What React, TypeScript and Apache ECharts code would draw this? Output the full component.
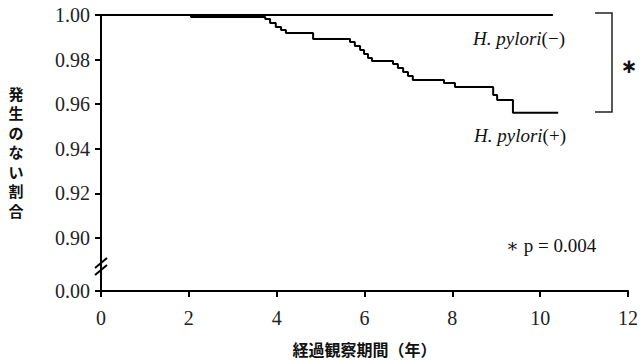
import React, { useEffect, useRef } from "react";
import * as echarts from "echarts";

const negTimes = [0, 10.29];
const negSurv = [1, 1];

const posTimes = [0, 2.05, 3.74, 3.85, 3.98, 4.1, 4.21, 4.83, 5.67, 5.78, 5.9, 5.99, 6.08, 6.17, 6.65, 6.76, 6.88, 6.99, 7.1, 7.81, 8.06, 8.93, 9.02, 9.38, 10.41];
const posSurv = [1, 0.9991, 0.9982, 0.9964, 0.9946, 0.9933, 0.9919, 0.9892, 0.9879, 0.9861, 0.9843, 0.9825, 0.9807, 0.9794, 0.978, 0.9762, 0.9744, 0.9726, 0.9709, 0.9695, 0.9677, 0.9641, 0.9619, 0.9561, 0.9561];

const yTicks = [0.8762, 0.9, 0.92, 0.94, 0.96, 0.98, 1.0];
const yBreakValue = 0.8762;

const yTitle = "発生のない割合";
const xTitle = "経過観察期間（年）";
const groupLabel = "H. pylori";
const negSuffix = "(−)";
const posSuffix = "(+)";
const pValue = "∗ p = 0.004";

const SERIF = "'Liberation Serif', 'DejaVu Serif', serif";
const CJK = "'Noto Sans CJK JP', sans-serif";

export default function App() {
  const ref = useRef<HTMLDivElement>(null);
  useEffect(() => {
    if (!ref.current) return;
    const chart = echarts.init(ref.current, undefined, { renderer: "svg" });
    const pair = (ts: number[], vs: number[]) => ts.map((t, i) => [t, vs[i]]);
    const titleChars = yTitle.split("").map((ch, i) => ({
      type: "text",
      x: 16,
      y: 93 + i * 19.5,
      style: {
        text: ch,
        fontFamily: CJK,
        fontSize: 15,
        fontWeight: "bold",
        fill: "#111",
        align: "center",
        verticalAlign: "middle",
      },
    }));
    const richStyle = {
      i: { fontFamily: SERIF, fontStyle: "italic", fontSize: 19, fill: "#111" },
      n: { fontFamily: SERIF, fontSize: 19, fill: "#111" },
    };
    chart.setOption({
      animation: false,
      backgroundColor: "#ffffff",
      grid: { left: 101, right: 12, top: 15, bottom: 70, containLabel: false, outerBoundsMode: "none" },
      xAxis: {
        type: "value",
        min: 0,
        max: 12,
        interval: 2,
        name: xTitle,
        nameLocation: "middle",
        nameGap: 50,
        nameTextStyle: { fontFamily: CJK, fontSize: 16, color: "#111", fontWeight: "bold" },
        axisLine: { show: true, lineStyle: { color: "#000", width: 2 } },
        axisTick: { show: true, length: 6, lineStyle: { color: "#000", width: 2 } },
        axisLabel: { fontFamily: SERIF, fontSize: 20, color: "#222", margin: 17 },
        splitLine: { show: false },
      },
      yAxis: {
        type: "value",
        min: yBreakValue,
        max: 1.0,
        axisLine: { show: true, lineStyle: { color: "#000", width: 2 } },
        axisTick: { show: true, length: 6, lineStyle: { color: "#000", width: 2 }, customValues: yTicks },
        axisLabel: {
          fontFamily: SERIF,
          fontSize: 20,
          color: "#222",
          margin: 11,
          customValues: yTicks,
          formatter: (v: number) => (v < 0.89 ? "0.00" : v.toFixed(2)),
        },
        splitLine: { show: false },
      },
      series: [
        {
          type: "line",
          name: "H. pylori(−)",
          data: pair(negTimes, negSurv),
          showSymbol: false,
          clip: false,
          lineStyle: { color: "#000", width: 2.2 },
        },
        {
          type: "line",
          name: "H. pylori(+)",
          step: "end",
          data: pair(posTimes, posSurv),
          showSymbol: false,
          clip: false,
          lineStyle: { color: "#000", width: 2 },
        },
      ],
      graphic: [
        ...titleChars,
        {
          type: "text",
          x: 473,
          y: 38,
          style: { text: "{i|" + groupLabel + "}{n|" + negSuffix + "}", verticalAlign: "middle", rich: richStyle },
        },
        {
          type: "text",
          x: 474,
          y: 135,
          style: { text: "{i|" + groupLabel + "}{n|" + posSuffix + "}", verticalAlign: "middle", rich: richStyle },
        },
        {
          type: "polyline",
          shape: { points: [[595, 13], [612, 13], [612, 112], [595, 112]] },
          style: { stroke: "#222", lineWidth: 1.5, fill: "none" },
        },
        {
          type: "text",
          x: 629,
          y: 66,
          style: { text: "∗", fontFamily: "'DejaVu Sans', sans-serif", fontSize: 20, fontWeight: "bold", fill: "#111", align: "center", verticalAlign: "middle" },
        },
        {
          type: "text",
          x: 506,
          y: 245,
          style: { text: pValue, fontFamily: SERIF, fontSize: 19, fill: "#111", verticalAlign: "middle" },
        },
        {
          type: "line",
          shape: { x1: 95, y1: 268, x2: 107, y2: 258 },
          style: { stroke: "#000", lineWidth: 2 },
        },
        {
          type: "line",
          shape: { x1: 95, y1: 275, x2: 107, y2: 265 },
          style: { stroke: "#000", lineWidth: 2 },
        },
      ],
    });
    return () => chart.dispose();
  }, []);
  return <div ref={ref} style={{ position: "absolute", left: 0, top: 0, width: 640, height: 361 }} />;
}
